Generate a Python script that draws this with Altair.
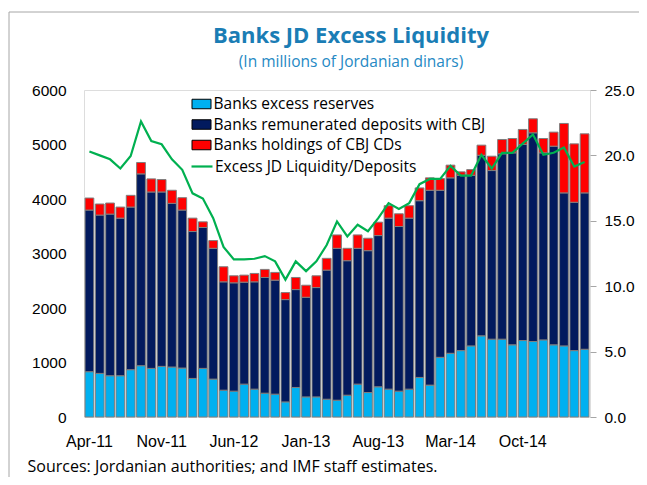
import altair as alt
import pandas as pd

# ---------------- data ----------------
month_names = ["Jan", "Feb", "Mar", "Apr", "May", "Jun", "Jul", "Aug", "Sep", "Oct", "Nov", "Dec"]
months = []
for yr in range(11, 16):
    for m in month_names:
        months.append(f"{m}-{yr}")
months = months[3:3 + 49]  # Apr-11 ... Apr-15

tick_labels = ["Apr-11", "Nov-11", "Jun-12", "Jan-13", "Aug-13", "Mar-14", "Oct-14"]

excess_reserves = [831, 800, 757, 757, 868, 941, 892, 929, 917, 898, 708, 892,
                   695, 492, 474, 603, 511, 437, 419, 277, 542, 369, 369, 326,
                   308, 400, 603, 449, 554, 511, 474, 511, 726, 585, 1095, 1169,
                   1218, 1305, 1489, 1428, 1428, 1324, 1403, 1385, 1415, 1324, 1305, 1218,
                   1243]
remunerated_deposits = [2966, 2905, 2966, 2892, 2984, 3520, 3237, 3200, 3003, 2899, 2695, 2585,
                        2400, 1988, 1988, 1871, 1969, 2123, 2092, 1877, 1796, 1828, 2006, 2369,
                        2787, 2468, 2492, 2603, 2775, 3138, 3021, 3138, 3243, 3575, 3065, 3219,
                        3218, 3131, 3314, 3094, 3401, 3523, 3597, 3829, 3432, 3645, 2807, 2722,
                        2869]
cbj_cds = [221, 203, 203, 203, 215, 209, 240, 228, 240, 227, 246, 104,
           142, 277, 129, 129, 154, 148, 142, 129, 222, 221, 216, 216,
           246, 227, 246, 228, 246, 228, 234, 228, 234, 228, 215, 233,
           62, 104, 185, 263, 263, 263, 276, 258, 263, 258, 1274, 1072,
           1084]
liquidity_ratio = [20.3, 20.0, 19.7, 19.0, 19.95, 22.6, 21.1, 20.85, 19.7, 18.9, 17.1, 16.7,
                   15.2, 13.0, 12.05, 12.05, 12.1, 12.3, 11.9, 10.5, 11.9, 11.15, 11.9, 13.15,
                   14.95, 13.8, 14.7, 14.2, 15.2, 16.35, 15.9, 16.35, 17.8, 18.2, 18.2, 19.2,
                   18.46, 18.46, 20.05, 19.0, 20.2, 20.2, 20.9, 21.6, 20.05, 20.2, 20.6, 19.15,
                   19.5]

series_names = ["Banks excess reserves",
                "Banks remunerated deposits with CBJ",
                "Banks holdings of CBJ CDs"]
series_colors = ["#00B0F0", "#021A5E", "#FF0000"]
line_name = "Excess JD Liquidity/Deposits"

rows = []
for i, mo in enumerate(months):
    for k, vals in enumerate([excess_reserves, remunerated_deposits, cbj_cds]):
        rows.append({"month": mo, "series": series_names[k], "order": k, "value": vals[i]})
bars_df = pd.DataFrame(rows)
line_df = pd.DataFrame({"month": months, "ratio": liquidity_ratio, "series": line_name})

FONT = "Open Sans"

x_enc = alt.X(
    "month:N", sort=months,
    scale=alt.Scale(paddingInner=0.15, paddingOuter=0.1),
    axis=alt.Axis(
        values=tick_labels, labelAngle=0, ticks=False, domain=False,
        labelPadding=16, labelFontSize=16,
        title="Sources: Jordanian authorities; and IMF staff estimates.",
        titleX=-57, titleY=49, titleAlign="left", titleBaseline="middle",
        titleFontWeight="normal", titleFontSize=16, titleFont=FONT, titleColor="#000000",
    ),
)

rect_symbol = "M-1,-0.5H1V0.5H-1Z"

bars = alt.Chart(bars_df).mark_bar(stroke="#7F7F7F", strokeWidth=1).encode(
    x=x_enc,
    y=alt.Y("sum(value):Q", stack="zero",
            scale=alt.Scale(domain=[0, 6000]),
            axis=alt.Axis(values=[0, 1000, 2000, 3000, 4000, 5000, 6000], format="d",
                          title=None, grid=False, ticks=False, domain=False,
                          labelPadding=18, labelFontSize=15.5)),
    color=alt.Color("series:N",
                    scale=alt.Scale(domain=series_names, range=series_colors),
                    legend=alt.Legend(orient="none", legendX=107.5, legendY=4, title=None,
                                      symbolType=rect_symbol, symbolSize=361,
                                      symbolStrokeColor="#000000", symbolStrokeWidth=1,
                                      symbolOpacity=1, labelFontSize=15.5, labelFont=FONT,
                                      labelColor="#000000", labelOffset=2, rowPadding=1.5,
                                      padding=0, labelLimit=400)),
    order=alt.Order("order:Q"),
)

line = alt.Chart(line_df).mark_line(strokeWidth=2.2).encode(
    x=alt.X("month:N", sort=months),
    y=alt.Y("ratio:Q", scale=alt.Scale(domain=[0, 25]),
            axis=alt.Axis(orient="right", values=[0, 5, 10, 15, 20, 25], format=".1f",
                          title=None, grid=False, ticks=True, tickSize=6,
                          tickColor="#A6A6A6", domain=False, labelPadding=8,
                          labelFontSize=15.5)),
    stroke=alt.Stroke("series:N",
                      scale=alt.Scale(domain=[line_name], range=["#00B050"]),
                      legend=alt.Legend(orient="none", legendX=106, legendY=64.5, title=None,
                                        symbolType="stroke", symbolSize=441,
                                        symbolStrokeWidth=2.2, labelFontSize=15.5,
                                        labelFont=FONT, labelColor="#000000",
                                        labelOffset=1, padding=0, labelLimit=400)),
)

frame_df = pd.DataFrame({"k": [0]})
frame_top = alt.Chart(frame_df).mark_rule(color="#A6A6A6", strokeWidth=1).encode(
    x=alt.value(-75), x2=alt.value(560), y=alt.value(-78))
frame_left = alt.Chart(frame_df).mark_rule(color="#A6A6A6", strokeWidth=1).encode(
    x=alt.value(-75), y=alt.value(-78), y2=alt.value(395))

chart = alt.layer(bars, line, frame_top, frame_left).resolve_scale(
    y="independent", color="independent", stroke="independent"
).properties(
    width=506, height=327,
    autosize=alt.AutoSizeParams(type="none"),
    padding={"left": 76, "top": 82, "right": 49, "bottom": 60},
    title=alt.TitleParams(
        text="Banks JD Excess Liquidity",
        subtitle="(In millions of Jordanian dinars)",
        font=FONT, fontSize=22, fontWeight="bold", color="#1A7DB5",
        subtitleFont=FONT, subtitleFontSize=15.5, subtitleColor="#2589C4",
        anchor="middle", dx=14, dy=60, offset=0, subtitlePadding=7,
    ),
).configure_view(stroke="#A6A6A6", strokeWidth=1).configure_axis(
    labelFont=FONT, labelColor="#000000"
).configure(background="#FFFFFF")

chart.save("out.html", embed_options={"renderer": "svg", "actions": False})
